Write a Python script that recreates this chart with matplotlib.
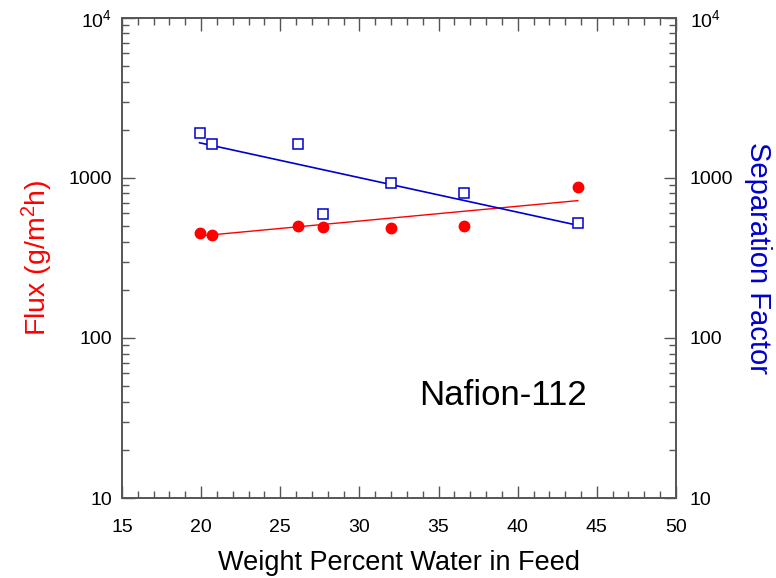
import numpy as np
import matplotlib
matplotlib.use("Agg")
from matplotlib import pyplot as plt
from matplotlib.ticker import FixedLocator, FixedFormatter, MultipleLocator

plt.rcParams['font.family'] = ['Liberation Sans', 'DejaVu Sans']
plt.rcParams['mathtext.fontset'] = 'custom'
plt.rcParams['mathtext.rm'] = 'Liberation Sans'

# data
water = [19.9, 20.7, 26.1, 27.7, 32.0, 36.6, 43.8]
flux = [453, 443, 499, 494, 487, 504, 883]
sep_factor = [1910, 1637, 1637, 599, 927, 805, 526]

# fitted lines (end points)
fit_x = [19.9, 43.8]
flux_fit = [434, 722]
sep_fit = [1660, 506]

ytick_vals = [10, 100, 1000, 10000]
ytick_labels = ['10', '100', '1000', r'$\mathregular{10^4}$']

frame = '#555555'

fig = plt.figure(figsize=(7.76, 5.78), dpi=100)
ax = fig.add_axes([0.1572, 0.1384, 0.7139, 0.8305])
ax2 = ax.twinx()

ax.plot(fit_x, flux_fit, color='red', lw=1)
ax.plot(water, flux, 'o', color='red', ms=7.5, mec='red')
ax2.plot(fit_x, sep_fit, color='#0000cc', lw=1.2)
ax2.plot(water, sep_factor, 's', mfc='white', mec='#0000cc', ms=7, mew=1.1)

for a in (ax, ax2):
    a.set_yscale('log')
    a.set_ylim(10, 10000)
    a.yaxis.set_major_locator(FixedLocator(ytick_vals))
    a.yaxis.set_major_formatter(FixedFormatter(ytick_labels))
    a.yaxis.set_minor_locator(FixedLocator(
        [m * 10 ** e for e in range(1, 4) for m in range(2, 10)]))
    a.yaxis.set_minor_formatter(FixedFormatter([]))
    for s in a.spines.values():
        s.set_color(frame)
        s.set_linewidth(1.2)

ax.set_xlim(15, 50)
ax.xaxis.set_major_locator(MultipleLocator(5))
ax.xaxis.set_minor_locator(MultipleLocator(1))

ax.tick_params(which='both', direction='in', top=True, color=frame,
               labelsize=14, width=1)
ax.tick_params(which='major', length=9, pad=15)
ax.tick_params(which='minor', length=5)
ax.tick_params(axis='y', which='major', pad=7)
ax2.tick_params(which='both', direction='in', color=frame, labelsize=14, width=1)
ax2.tick_params(which='major', length=9, pad=10)
ax2.tick_params(which='minor', length=5)

ax.set_xlabel('Weight Percent Water in Feed', fontsize=19.5, labelpad=10)
ax.set_ylabel(r'Flux (g/m$\mathregular{^2}$h)', fontsize=20.5, color='red', labelpad=10)
ax2.set_ylabel('Separation Factor', fontsize=21, color='#0000cc',
               rotation=270, va='bottom', labelpad=8)

ax.text(0.84, 0.2125, 'Nafion-112', transform=ax.transAxes, fontsize=25,
        ha='right', va='center')

fig.savefig('out.png', dpi=100)
